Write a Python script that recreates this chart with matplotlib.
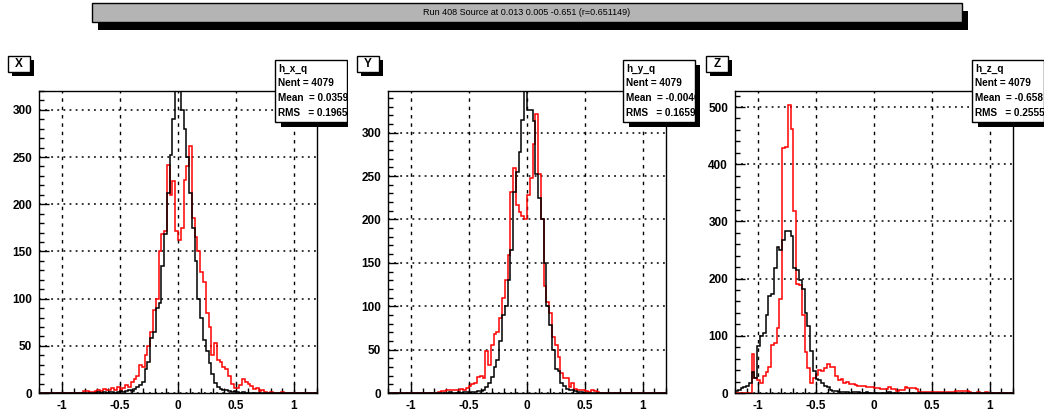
import numpy as np
import matplotlib
matplotlib.use("Agg")
import matplotlib.pyplot as plt
from matplotlib.patches import Rectangle
from matplotlib.ticker import MultipleLocator
from matplotlib.transforms import Bbox, TransformedBbox

W, H = 1044, 417
NBINS = 100
edges = np.linspace(-1.2, 1.2, NBINS + 1)

# bin contents, each list starts at the given bin index
x_red_start = 16
x_red = [2, 2, 1, 1, 2, 3, 2, 4, 3, 3, 5, 3, 6, 2, 5, 8, 6, 12, 15, 18,
         30, 28, 40, 50, 65, 88, 100, 150, 168, 172, 242, 210, 225, 172, 162, 175,
         226, 240, 262, 185, 165, 150, 128, 118, 85, 70, 40, 53, 35, 33, 28, 25,
         18, 10, 5, 5, 8, 15, 12, 10, 7, 4, 5, 2, 3, 1, 0, 1, 0, 0, 0, 1]
x_black_start = 21
x_black = [1, 0, 1, 0, 1, 1, 0, 1, 2, 1, 2, 3, 2, 4, 6, 8, 12, 25, 33, 58,
           65, 90, 95, 135, 168, 212, 252, 290, 320, 320, 300, 280, 250, 212, 175,
           140, 100, 80, 56, 44, 32, 20, 11, 6, 4, 3, 3, 2, 1, 2, 1, 0, 1]

y_red_start = 18
y_red = [1, 2, 2, 4, 3, 3, 4, 3, 5, 4, 6, 8, 10, 12, 18, 20, 17, 48, 32, 55,
         68, 70, 86, 109, 130, 159, 232, 259, 217, 208, 204, 200, 228, 248, 287,
         322, 252, 200, 123, 105, 92, 65, 55, 42, 23, 17, 17, 7, 11, 5, 3, 3, 4,
         2, 1, 3, 2, 1]
y_black_start = 22
y_black = [1, 0, 0, 1, 0, 1, 1, 0, 1, 1, 2, 2, 4, 7, 12, 18, 30, 38, 60, 90,
           100, 130, 165, 232, 255, 278, 315, 348, 326, 326, 313, 252, 225, 200,
           150, 100, 78, 50, 28, 25, 12, 8, 5, 3, 3, 2, 1, 1]

z_red_start = 6
z_red = [69, 26, 22, 18, 30, 37, 46, 84, 87, 113, 165, 428, 430, 503, 462, 318,
         190, 188, 136, 72, 43, 17, 26, 31, 40, 38, 43, 50, 46, 45, 29, 23, 25,
         18, 20, 15, 16, 14, 13, 12, 12, 11, 10, 10, 8, 9, 7, 7, 7, 10, 7, 7, 3,
         6, 6, 10, 8, 8, 8, 7, 2, 2, 1, 2, 1, 2, 1, 1, 1, 0, 1, 1, 1, 4, 4, 4, 3,
         4, 2, 0, 0, 1, 0, 0, 1]
z_black_start = 0
z_black = [4, 6, 8, 10, 12, 17, 36, 26, 82, 99, 105, 137, 169, 173, 218, 256,
           250, 268, 283, 283, 274, 218, 215, 198, 181, 140, 117, 73, 38, 25, 22,
           17, 12, 10, 6, 4, 3, 2, 2, 1, 1, 0, 1, 2, 1, 0, 0, 1, 0, 0, 0, 0, 0, 0,
           0, 1]

names = ["X", "Y", "Z"]
hist_names = ["h_x_q", "h_y_q", "h_z_q"]
nent = [4079, 4079, 4079]
means = ["0.03596", "-0.00463", "-0.658"]
rmss = ["0.1965", "0.1659", "0.2555"]
ymax = [320, 348, 528]
title = "Run 408 Source at 0.013 0.005 -0.651 (r=0.651149)"

FONT = ["Liberation Sans", "DejaVu Sans"]


def fill(start, vals):
    h = np.zeros(NBINS)
    h[start:start + len(vals)] = vals
    return h


def fx(px):
    return px / W


def fy(py):
    return 1 - py / H


def pad_clip(x0, x1):
    return TransformedBbox(Bbox([[fx(x0), 0], [fx(x1), 1]]), fig.transFigure)


def box(x0, y0, x1, y1, fc, dx, dy, clip=None):
    sh = Rectangle((fx(x0 + dx), fy(y1 + dy)), (x1 - x0) / W, (y1 - y0) / H,
                   transform=fig.transFigure, fc="black", ec="black", lw=0)
    bx = Rectangle((fx(x0), fy(y1)), (x1 - x0) / W, (y1 - y0) / H,
                   transform=fig.transFigure, fc=fc, ec="black", lw=1)
    for p in (sh, bx):
        if clip is not None:
            p.set_clip_box(clip)
        fig.add_artist(p)


fig = plt.figure(figsize=(W / 100, H / 100), dpi=100)

# title bar
box(92, 3, 962, 22, "#b4b4b4", 6, 8)
fig.text(fx(527), fy(12.5), title, ha="center", va="center", fontsize=6.5,
         family=FONT)

hists = [(fill(x_red_start, x_red), fill(x_black_start, x_black)),
         (fill(y_red_start, y_red), fill(y_black_start, y_black)),
         (fill(z_red_start, z_red), fill(z_black_start, z_black))]
lefts = [39, 388, 735]
pads = [(0, 348), (348, 700), (700, W)]
label_x = [8, 357, 706]
stats_x = [275, 623, 972]

for i in range(3):
    ax = fig.add_axes([fx(lefts[i]), fy(393), 278 / W, 302 / H])
    red, black = hists[i]
    ax.stairs(red, edges, color="red", lw=1.1)
    ax.stairs(black, edges, color="black", lw=1.1)
    ax.set_xlim(-1.2, 1.2)
    ax.set_ylim(0, ymax[i])
    ax.set_xticks([-1, -0.5, 0, 0.5, 1])
    ax.set_xticklabels(["-1", "-0.5", "0", "0.5", "1"])
    ax.xaxis.set_minor_locator(MultipleLocator(0.1))
    if i < 2:
        ax.yaxis.set_major_locator(MultipleLocator(50))
        ax.yaxis.set_minor_locator(MultipleLocator(10))
    else:
        ax.yaxis.set_major_locator(MultipleLocator(100))
        ax.yaxis.set_minor_locator(MultipleLocator(20))
    ax.tick_params(which="both", direction="in", top=False, right=False,
                   width=1, colors="black")
    ax.tick_params(which="major", length=7, pad=5)
    ax.tick_params(which="minor", length=3.5)
    for lab in ax.get_xticklabels() + ax.get_yticklabels():
        lab.set_family(FONT)
        lab.set_fontweight("bold")
        lab.set_fontsize(8.5)
    ax.xaxis.grid(True, color="black", lw=1, linestyle=(0, (2.5, 3.5)))
    ax.yaxis.grid(True, color="black", lw=1.1, linestyle=(0, (1.2, 2.8)))
    ax.set_axisbelow(True)
    for s in ax.spines.values():
        s.set_linewidth(1)

    clip = pad_clip(*pads[i])

    # small title box with the axis name
    lx = label_x[i]
    box(lx, 56, lx + 22, 72, "white", 4, 4, clip)
    fig.text(fx(lx + 11), fy(64), names[i], ha="center", va="center",
             fontsize=8.5, fontweight="bold", family=FONT)

    # stats box
    sx = stats_x[i]
    box(sx, 60, sx + 72, 122, "white", 6, 5, clip)
    lines = [hist_names[i], "Nent = %d" % nent[i], "Mean  = " + means[i],
             "RMS   = " + rmss[i]]
    for j, t in enumerate(lines):
        tt = fig.text(fx(sx + 3), fy(69 + j * 14.5), t, ha="left", va="center",
                      fontsize=7.2, family=FONT, fontweight="bold")
        tt.set_clip_box(clip)
        tt.set_clip_on(True)

fig.savefig("out.png", dpi=100)
